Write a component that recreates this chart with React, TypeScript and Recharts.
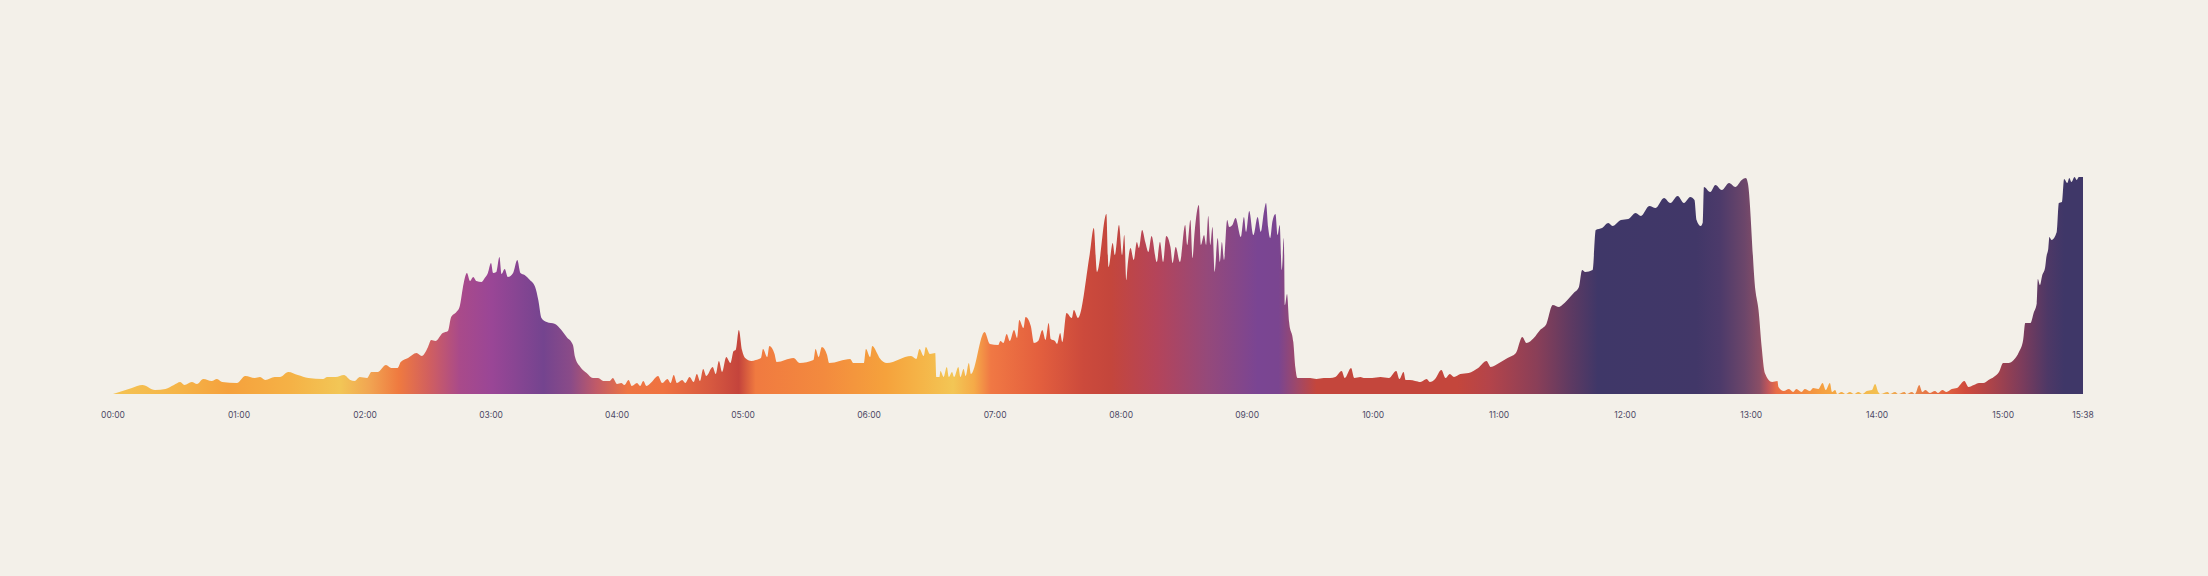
import { AreaChart, Area, XAxis, YAxis } from "recharts";

// [minute since 00:00, load], one list per phase of the day
const dawn: [number, number][] = [
  [0, 0], [9, 6], [14, 9], [20, 4], [25, 5], [29, 9], [32, 12], [34, 9], [37.5, 12], [40, 10],
  [43, 15], [47, 13], [49.5, 15], [52, 12], [59, 11], [63, 18], [67.5, 16], [70, 17], [72.5, 14],
  [77, 17], [79.5, 17], [83.5, 22], [88, 19], [93, 16], [100, 15], [102, 17], [106, 17], [110, 19],
  [113, 14], [115, 13], [117.5, 17], [121, 16], [123, 22], [126, 22], [130, 29], [132.5, 26],
  [135.5, 26], [137, 32], [140.5, 36], [144.5, 41], [147, 38], [150, 47], [151.5, 54], [153.5, 53],
];

const firstPeak: [number, number][] = [
  [157, 61], [159.5, 63], [161, 77], [163.5, 82], [165, 87], [167, 111], [168.5, 121], [170, 113],
  [171.5, 117], [173, 113], [175.5, 112], [177, 116], [178.5, 121], [180, 131], [181, 121],
  [182.5, 122], [184, 137], [185, 120], [186.5, 125], [188, 117], [190.5, 121], [192.5, 134],
  [194, 121], [196, 119], [198.5, 114], [201, 107], [202.5, 94], [204, 76], [206.5, 72],
  [210.5, 70], [213.5, 64], [216, 57], [219, 49], [220, 37], [222.5, 27], [225.5, 21], [228.5, 16],
];

const morning: [number, number][] = [
  [231, 16], [233.5, 13], [236.5, 13], [238, 16], [240, 10], [242, 11], [243.5, 9], [245.5, 14],
  [247, 8], [249.5, 11], [251, 8], [252.5, 13], [254, 8], [256.5, 12], [259.5, 18], [261.5, 11],
  [264, 15], [265.5, 11], [267, 19], [268.5, 11], [271, 14], [272.5, 11], [274.5, 17], [276.5, 12],
  [278, 20], [279.5, 13], [281, 25], [282.5, 18], [285.5, 27], [287, 20], [288.5, 33], [290, 22],
  [292, 37], [294, 31], [295.5, 43], [296.5, 44], [298, 64], [299.5, 44], [301, 36], [304, 33],
  [306, 34], [308.5, 36], [309.5, 45], [311.5, 37], [312.5, 48], [315, 40], [316, 32], [324, 36],
  [327, 31], [333.5, 34], [334.5, 45], [336, 37], [337.5, 47], [340, 39], [341, 31], [351, 35],
  [352.5, 31], [357.5, 31], [358.5, 45], [360.5, 37], [361.5, 48], [364, 40], [365, 36],
  [368.5, 31], [380, 38], [382.5, 35], [384, 45], [386, 38], [387, 47], [389, 40], [391.5, 41],
  [392, 17], [393.5, 17], [394, 23], [395.5, 17], [397, 27], [398, 17], [399.5, 22], [400.5, 17],
  [402.5, 27], [403.5, 17], [405, 25], [406, 18], [407.5, 31], [408.5, 20],
];

const rush: [number, number][] = [
  [415, 62], [417.5, 50], [421.5, 49], [422.5, 53], [424, 51], [425.5, 60], [427, 53], [429, 64],
  [430.5, 56], [431.5, 74], [433.5, 66], [434.5, 77], [437, 68], [438.5, 51], [440.5, 53],
  [442.5, 64], [444, 54], [445.5, 71], [446.5, 55], [448.5, 53], [449.5, 50], [451, 61], [452, 52],
  [454, 81], [456.5, 76], [457.5, 84], [459.5, 76], [465, 139], [467, 166], [468.5, 122],
  [473, 180], [474, 127], [476, 151], [477, 139], [479, 169], [480.5, 139], [481.5, 159],
  [482.5, 114], [483, 126], [484.5, 146], [486, 134], [487.5, 152], [488.5, 146], [490, 164],
  [491.5, 152], [493, 142], [494.5, 158], [497, 132], [498.5, 152], [500, 132], [501.5, 158],
  [503.5, 147], [504.5, 131], [506, 147], [508, 132], [510.5, 169], [511.5, 149], [513, 174],
  [514, 136], [515, 162], [517, 189], [518, 149], [519.5, 159], [520.5, 149], [521.5, 178],
  [522.5, 149], [523.5, 167], [524.5, 122], [526, 156], [527, 132], [528, 152], [529, 134],
  [530.5, 174], [531.5, 167], [533, 169], [534.5, 176], [537, 157], [538.5, 177], [539.5, 162],
  [541, 183], [543, 159], [545, 177], [546.5, 162], [548, 182], [549, 191], [550, 167], [551, 156],
  [552, 172], [553.5, 180], [554.5, 159], [555.5, 169], [556.5, 124], [557.5, 156], [558, 89],
  [559, 100], [560, 72], [562, 52], [563, 26], [564, 16],
];

const lull: [number, number][] = [
  [565, 16], [567, 16], [570, 16], [573, 15], [576.5, 16], [579.5, 16], [582, 17], [585, 23],
  [586.5, 16], [589.5, 26], [591, 16], [594, 17], [595.5, 16], [599.5, 16], [603.5, 17],
  [607.5, 16], [611, 23], [612.5, 15], [614.5, 22], [615.5, 14], [617.5, 14], [620, 13],
  [622.5, 12], [625.5, 15], [627, 12], [629.5, 15], [632.5, 24], [634.5, 16], [636.5, 20],
  [638.5, 17], [641.5, 20], [645.5, 21], [650, 26], [654, 33], [656, 27], [660, 31], [664, 36],
  [668, 41], [671, 57], [673, 51], [676.5, 56], [679.5, 64], [682.5, 70], [685.5, 89], [688.5, 87],
  [690, 89], [692.5, 94], [695.5, 101], [698, 107], [699.5, 124], [701, 122], [704.5, 124],
];

const noonPlateau: [number, number][] = [
  [706, 164], [709, 166], [712, 171], [714, 168], [718, 174], [721.5, 175], [725, 181],
  [727.5, 178], [731.5, 188], [734.5, 186], [738.5, 196], [741.5, 191], [745, 198], [748, 191],
  [751, 197], [753, 194], [754, 174], [756, 168], [757, 172], [757.5, 207], [760.5, 202], [763, 209],
  [766, 204], [769.5, 211], [772.5, 207], [775.5, 214], [777.5, 216], [778.5, 210], [782, 104],
  [783.5, 84], [785, 47], [786.5, 21],
];

const afternoon: [number, number][] = [
  [790, 12], [792.5, 13], [793, 7], [795.5, 3], [798, 5], [800, 2], [801.5, 5], [804, 2],
  [805.5, 5], [808, 3], [809.5, 6], [812, 5], [814, 11], [815.5, 4], [817.5, 11], [818.5, 2],
  [820, 4], [821, 0], [823, 2], [825, 0], [827, 2], [829, 0], [831, 2], [833, 0], [835, 3],
  [837.5, 4], [839, 10], [840.5, 2], [841.5, 0], [845, 2], [846, 0], [848.5, 2], [850, 0],
  [853, 2], [854, 0], [856.5, 2], [858, 0], [860, 9], [861.5, 2], [863, 4], [865, 1], [867.5, 3],
  [869, 1], [871, 4], [873, 2], [875.5, 5], [878, 6], [881.5, 13], [883.5, 7], [886, 9],
  [888.5, 11], [890.5, 11], [893, 14], [895.5, 17], [898, 22], [900, 31], [902.5, 31], [905, 34],
  [907.5, 42], [909.5, 54], [910.5, 71], [913, 71], [914.5, 81], [916, 91], [916.5, 115],
  [917.5, 109], [918.5, 118], [920, 127], [920.5, 136], [921.5, 146], [922, 157], [923, 154],
  [925.5, 162], [926.5, 191], [928, 192], [929, 215], [930.5, 211], [931.5, 216], [932.5, 212],
  [934, 217], [935, 214], [936, 217], [938, 217],
];

const TICKS = [0, 60, 120, 180, 240, 300, 360, 420, 480, 540, 600, 660, 720, 780, 840, 900, 938];

// horizontal colour ramp: [minute, colour]
const RAMP: [number, string][] = [
  [0, "#f4c353"], [30, "#f5b548"], [55, "#f5a13d"], [85, "#f5b246"], [108, "#f2c656"],
  [122, "#f1a552"], [136, "#ef7a40"], [150, "#d2605e"], [165, "#a94a8a"], [180, "#9a4696"],
  [205, "#74448f"], [218, "#8a4b88"], [230, "#c05a68"], [245, "#ee7542"], [262, "#ef7240"],
  [285, "#d65840"], [298, "#c4443c"], [306, "#f07a40"], [338, "#f38a3e"], [368, "#f5a23c"],
  [385, "#f5b548"], [400, "#f3c655"], [410, "#f5aa48"], [418, "#f07844"], [440, "#e4603e"],
  [462, "#cc4a3c"], [475, "#c4463c"], [497, "#b4445a"], [521, "#95497a"], [545, "#7a4593"],
  [555, "#7a4590"], [564, "#a04868"], [573, "#c4463c"], [640, "#c4463c"], [655, "#b4444a"],
  [678, "#8a3f58"], [694, "#5e3a62"], [707, "#3f3768"], [754, "#413768"], [765, "#4c3a6a"],
  [777, "#6c466a"], [784, "#8a4e66"], [788, "#c0565a"], [792, "#e86c46"], [798, "#f07a40"],
  [814, "#f5a040"], [840, "#f3c050"], [855, "#eb9048"], [862, "#e67a48"], [870, "#e66a40"],
  [882, "#d04a3c"], [893, "#b04448"], [909, "#7c3c5c"], [921, "#4e3866"], [929, "#3f3768"],
  [938, "#3f3768"],
];

const END = 938;
const data = [...dawn, ...firstPeak, ...morning, ...rush, ...lull, ...noonPlateau, ...afternoon].map(
  ([t, v]) => ({ t, v })
);

const fmt = (t: number) =>
  `${String(Math.floor(t / 60)).padStart(2, "0")}:${String(t % 60).padStart(2, "0")}`;

export default function App() {
  return (
    <div style={{ width: 2208, height: 576, background: "#f3f0e9" }}>
      <style>{`body{margin:0;background:#f3f0e9}`}</style>
      <AreaChart width={2208} height={576} data={data} margin={{ top: 94, right: 125, bottom: 152, left: 113 }}>
        <defs>
          <linearGradient id="dayRamp" x1="0" y1="0" x2="1" y2="0">
            {RAMP.map(([t, c]) => (
              <stop key={t} offset={t / END} stopColor={c} />
            ))}
          </linearGradient>
        </defs>
        <XAxis
          dataKey="t"
          type="number"
          domain={[0, END]}
          ticks={TICKS}
          tickFormatter={fmt}
          axisLine={false}
          tickLine={false}
          tickMargin={12}
          height={30}
          interval={0}
          tick={{ fill: "#4d4a66", fontSize: 8.5, fontFamily: "Inter" }}
        />
        <YAxis hide domain={[0, 300]} />
        <Area
          type="monotone"
          dataKey="v"
          stroke="none"
          fill="url(#dayRamp)"
          fillOpacity={1}
          isAnimationActive={false}
        />
      </AreaChart>
    </div>
  );
}
